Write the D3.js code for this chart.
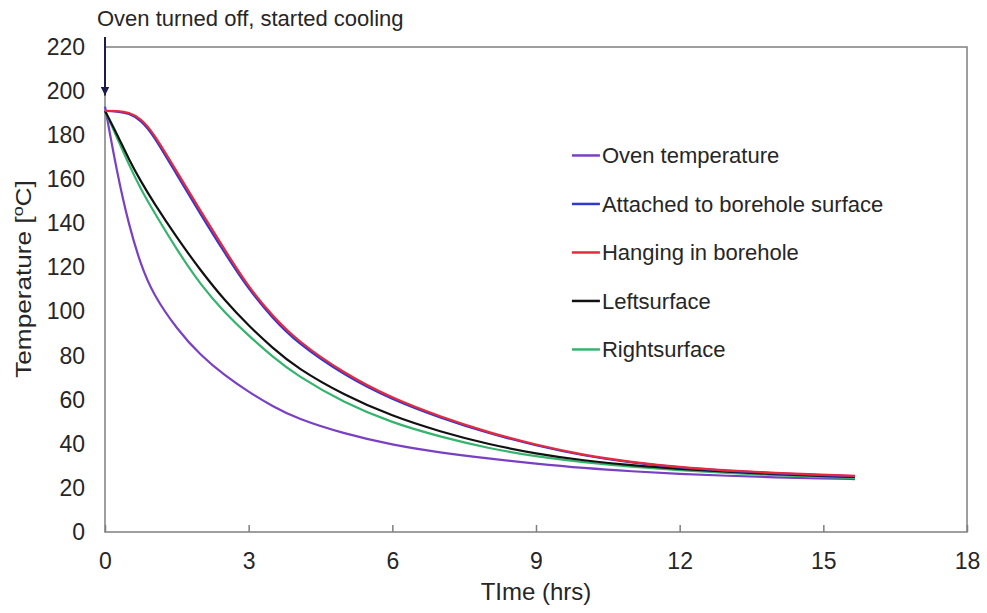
<!DOCTYPE html>
<html lang="en">
<head>
<meta charset="UTF-8">
<title>Cooling curves</title>
<script src="https://cdn.jsdelivr.net/npm/d3@7"></script>
<style>
  body { margin: 0; background: #fff; }
  text { font-family: "Liberation Sans", Arial, sans-serif; fill: #262626; }
</style>
</head>
<body>
<div id="box"></div>
<script>
// data (hours, deg C)
const timeHrs = [0, 0.25, 0.5, 0.75, 1, 1.5, 2, 2.5, 3, 3.5, 4, 5, 6, 7, 8, 9, 10, 11, 12, 13, 14, 15, 15.66];
const ovenTemp = [193, 163, 139, 121, 108, 92, 80, 71, 63.5, 57, 51.5, 44.5, 39.5, 36, 33.3, 31, 29, 27.5, 26.3, 25.5, 24.8, 24.2, 24];
const attachedTemp = [191, 190.8, 190, 186.8, 180.5, 162, 144, 126.5, 110, 97, 86, 71, 60, 51.8, 44.8, 39.2, 34.6, 31.4, 29.2, 27.7, 26.6, 25.7, 25.3];
const hangingTemp = [191, 191, 190.5, 187.5, 181.5, 163.5, 145.5, 128, 111, 98, 87, 71.8, 60.6, 52.3, 45.2, 39.5, 34.9, 31.7, 29.4, 27.9, 26.8, 25.9, 25.5];
const leftTemp = [191, 180.5, 169, 159, 150, 133.5, 118.5, 105, 93.5, 83.5, 74.5, 62, 52.5, 45.5, 39.8, 35.5, 32.4, 30.2, 28.6, 27.3, 26.2, 25.3, 25];
const rightTemp = [191, 179, 166.5, 155.5, 146, 128, 112, 99.5, 89, 79.5, 71, 58.5, 49.5, 43.2, 38, 34.2, 31.6, 29.6, 28, 26.8, 25.8, 24.9, 24.5];

const seriesNames = ["Oven temperature", "Attached to borehole surface", "Hanging in borehole", "Leftsurface", "Rightsurface"];
const seriesValues = [ovenTemp, attachedTemp, hangingTemp, leftTemp, rightTemp];
const seriesColors = ["#7a40c4", "#3038d0", "#e8283c", "#111111", "#35b46e"];
const drawOrder = [0, 4, 3, 1, 2];

const xTicks = [0, 3, 6, 9, 12, 15, 18];
const yTicks = d3.range(0, 221, 20);

const width = 987, height = 613;
const margin = {top: 47, right: 20, bottom: 81, left: 105};
const innerWidth = width - margin.left - margin.right;
const innerHeight = height - margin.top - margin.bottom;

const svg = d3.select("#box").append("svg")
  .attr("width", width).attr("height", height);

const xScale = d3.scaleLinear().domain([0, 18]).range([0, innerWidth]);
const yScale = d3.scaleLinear().domain([0, 220]).range([innerHeight, 0]);

const g = svg.append("g").attr("transform", `translate(${margin.left},${margin.top})`);

// axes (font set on the group so the ticks inherit it)
const xAxis = d3.axisBottom(xScale).tickValues(xTicks).tickSizeInner(-7).tickSizeOuter(0).tickPadding(21);
const xg = g.append("g").attr("transform", `translate(0,${innerHeight})`).call(xAxis)
  .attr("font-size", 23).attr("font-family", "Liberation Sans, Arial, sans-serif");
xg.select(".domain").remove();
xg.selectAll(".tick line").attr("stroke", "#7f7f7f").attr("stroke-width", 1.5);
xg.selectAll(".tick text").attr("fill", "#262626");

const yAxis = d3.axisLeft(yScale).tickValues(yTicks).tickSize(0).tickPadding(20);
const yg = g.append("g").call(yAxis)
  .attr("font-size", 23).attr("font-family", "Liberation Sans, Arial, sans-serif");
yg.select(".domain").remove();
yg.selectAll(".tick text").attr("fill", "#262626");

// frame
g.append("rect")
  .attr("width", innerWidth).attr("height", innerHeight)
  .attr("fill", "none").attr("stroke", "#7f7f7f").attr("stroke-width", 1.5);

// curves
const line = d3.line()
  .x(d => xScale(d[0]))
  .y(d => yScale(d[1]))
  .curve(d3.curveBasis);

drawOrder.forEach(i => {
  const pts = timeHrs.map((t, k) => [t, seriesValues[i][k]]);
  g.append("path")
    .datum(pts)
    .attr("d", line)
    .attr("fill", "none")
    .attr("stroke", seriesColors[i])
    .attr("stroke-width", 2.2);
});

// legend
const legend = g.append("g").attr("transform", `translate(${xScale(9.75)},${yScale(170.8)})`);
seriesNames.forEach((name, i) => {
  const row = legend.append("g").attr("transform", `translate(0,${i * 48.5})`);
  row.append("line").attr("x1", 0).attr("x2", 28).attr("y1", 0).attr("y2", 0)
    .attr("stroke", seriesColors[i]).attr("stroke-width", 2.5);
  row.append("text").attr("x", 30).attr("dy", "0.35em").attr("font-size", "22px").text(name);
});

// arrow annotation
svg.append("defs").append("marker")
  .attr("id", "head").attr("viewBox", "0 0 10 10").attr("refX", 10).attr("refY", 5)
  .attr("markerWidth", 4.5).attr("markerHeight", 4.5).attr("orient", "auto")
  .append("path").attr("d", "M0,0L10,5L0,10z").attr("fill", "#1c1c48");

g.append("line")
  .attr("x1", xScale(0)).attr("x2", xScale(0))
  .attr("y1", -10).attr("y2", yScale(198))
  .attr("stroke", "#1c1c48").attr("stroke-width", 2)
  .attr("marker-end", "url(#head)");

svg.append("text").attr("x", 97).attr("y", 26).attr("font-size", "22px")
  .text("Oven turned off, started cooling");

// axis titles
svg.append("text")
  .attr("x", margin.left + xScale(9)).attr("y", 600)
  .attr("text-anchor", "middle").attr("font-size", "24px")
  .text("TIme (hrs)");

const yt = svg.append("text")
  .attr("transform", `translate(31,279) rotate(-90) scale(1.19,1)`)
  .attr("text-anchor", "middle").attr("font-size", "22px");
yt.append("tspan").text("Temperature [");
yt.append("tspan").attr("font-size", "15px").attr("dy", "-8").text("o");
yt.append("tspan").attr("dy", "8").text("C]");
</script>
</body>
</html>
